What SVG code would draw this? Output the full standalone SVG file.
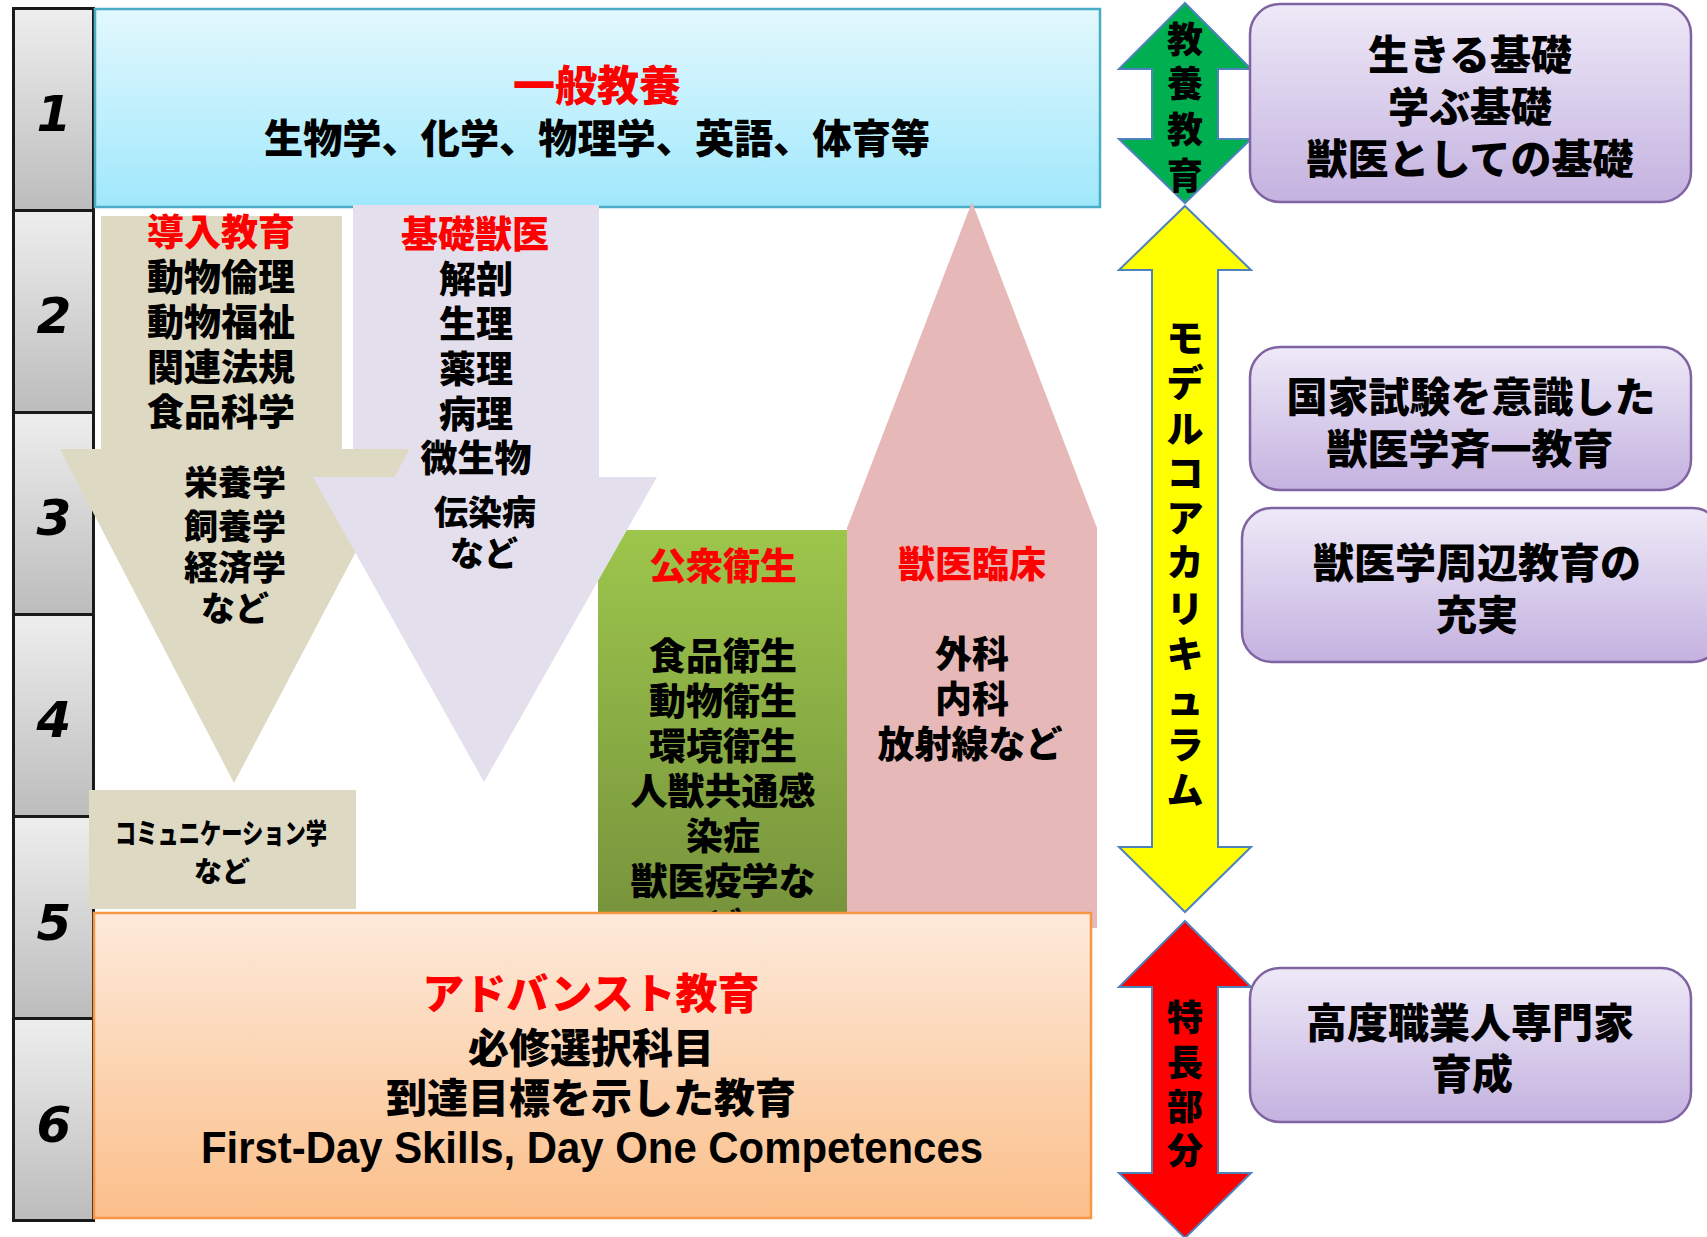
<svg xmlns="http://www.w3.org/2000/svg" width="1707" height="1237" viewBox="0 0 1707 1237">
<defs>
<linearGradient id="gCol" x1="0" y1="0" x2="0" y2="1"><stop offset="0" stop-color="#eeeeee"/><stop offset="1" stop-color="#bcbcbc"/></linearGradient>
<linearGradient id="gBlue" x1="0" y1="0" x2="0" y2="1"><stop offset="0" stop-color="#e2f8fd"/><stop offset="1" stop-color="#a0e8fc"/></linearGradient>
<linearGradient id="gGreen" x1="0" y1="0" x2="0" y2="1"><stop offset="0" stop-color="#9dc64c"/><stop offset="1" stop-color="#76923c"/></linearGradient>
<linearGradient id="gOrange" x1="0" y1="0" x2="0" y2="1"><stop offset="0" stop-color="#fdeadb"/><stop offset="1" stop-color="#fbbf8a"/></linearGradient>
<linearGradient id="gPurple" x1="0" y1="0" x2="0" y2="1"><stop offset="0" stop-color="#eee9f7"/><stop offset="1" stop-color="#c4b2e0"/></linearGradient>
<style>
.j{font-family:'Liberation Sans','Noto Sans CJK JP',sans-serif;font-weight:900;text-anchor:middle;fill:#000}
.r{fill:#ff0000}
.num{font-family:'DejaVu Sans',sans-serif;font-weight:bold;font-style:italic;font-size:50px;text-anchor:middle;fill:#000}
.cell{fill:url(#gCol);stroke:#1a1a1a;stroke-width:3}
.pbox{fill:url(#gPurple);stroke:#8064a2;stroke-width:2.5}
.arr{stroke:#4f81bd;stroke-width:2}
</style>
</defs>
<rect width="1707" height="1237" fill="#ffffff"/>

<g id="year-column">
<rect class="cell" x="13.5" y="8.5" width="80" height="202"/>
<rect class="cell" x="13.5" y="210.5" width="80" height="202"/>
<rect class="cell" x="13.5" y="412.5" width="80" height="202"/>
<rect class="cell" x="13.5" y="614.5" width="80" height="202"/>
<rect class="cell" x="13.5" y="816.5" width="80" height="202"/>
<rect class="cell" x="13.5" y="1018.5" width="80" height="202"/>
<text class="num" x="54" y="131">1</text>
<text class="num" x="54" y="333">2</text>
<text class="num" x="54" y="535">3</text>
<text class="num" x="54" y="737">4</text>
<text class="num" x="54" y="940">5</text>
<text class="num" x="54" y="1142">6</text>
</g>

<g id="node-ippan-kyoyo">
<rect x="95" y="9" width="1005" height="198" fill="url(#gBlue)" stroke="#4bacc6" stroke-width="2.5"/>
<text class="j r" x="597" y="101" font-size="42">一般教養</text>
<text class="j" x="597" y="153" font-size="40" textLength="666" lengthAdjust="spacingAndGlyphs">生物学、化学、物理学、英語、体育等</text>
</g>

<g id="node-dounyu-kyoiku">
<polygon points="101,216 342,216 342,449 410,449 234,783 60,449 101,449" fill="#ddd9c3"/>
<text class="j r" x="221" y="246" font-size="37">導入教育</text>
<text class="j" x="221" y="291" font-size="37">動物倫理</text>
<text class="j" x="221" y="336" font-size="37">動物福祉</text>
<text class="j" x="221" y="381" font-size="37">関連法規</text>
<text class="j" x="221" y="426" font-size="37">食品科学</text>
<text class="j" x="235" y="495" font-size="34">栄養学</text>
<text class="j" x="235" y="539" font-size="34">飼養学</text>
<text class="j" x="235" y="580" font-size="34">経済学</text>
<text class="j" x="235" y="621" font-size="34">など</text>
</g>

<g id="node-koshu-eisei">
<rect x="598" y="530" width="249" height="400" fill="url(#gGreen)"/>
<text class="j r" x="723" y="580" font-size="37">公衆衛生</text>
<text class="j" x="723" y="670" font-size="37">食品衛生</text>
<text class="j" x="723" y="715" font-size="37">動物衛生</text>
<text class="j" x="723" y="760" font-size="37">環境衛生</text>
<text class="j" x="723" y="805" font-size="37">人獣共通感</text>
<text class="j" x="723" y="850" font-size="37">染症</text>
<text class="j" x="723" y="895" font-size="37">獣医疫学な</text>
<text class="j" x="723" y="940" font-size="37">ど</text>
</g>

<g id="node-kiso-juui">
<polygon points="353,205 599,205 599,477 657,477 484,782 313,477 395,477 410,449 353,449" fill="#e4dfec"/>
<text class="j r" x="475" y="248" font-size="37">基礎獣医</text>
<text class="j" x="476" y="293" font-size="37">解剖</text>
<text class="j" x="476" y="338" font-size="37">生理</text>
<text class="j" x="476" y="383" font-size="37">薬理</text>
<text class="j" x="476" y="428" font-size="37">病理</text>
<text class="j" x="476" y="472" font-size="37">微生物</text>
<text class="j" x="485" y="525" font-size="34">伝染病</text>
<text class="j" x="484" y="566" font-size="34">など</text>
</g>

<g id="node-juui-rinsho">
<polygon points="847,928 847,528 972,202 1097,528 1097,928" fill="#e6b9b8"/>
<text class="j r" x="972" y="578" font-size="37">獣医臨床</text>
<text class="j" x="972" y="668" font-size="37">外科</text>
<text class="j" x="972" y="713" font-size="37">内科</text>
<text class="j" x="970" y="758" font-size="37">放射線など</text>
</g>

<g id="node-communication">
<rect x="89" y="790" width="267" height="119" fill="#ddd9c3"/>
<text class="j" x="221" y="844" font-size="28" textLength="212" lengthAdjust="spacingAndGlyphs">コミュニケーション学</text>
<text class="j" x="222" y="882" font-size="28">など</text>
</g>

<g id="node-advanced">
<rect x="94" y="913" width="997" height="305" fill="url(#gOrange)" stroke="#f79646" stroke-width="2.5"/>
<text class="j r" x="591" y="1009" font-size="42">アドバンスト教育</text>
<text class="j" x="591" y="1063" font-size="41">必修選択科目</text>
<text class="j" x="591" y="1113" font-size="41">到達目標を示した教育</text>
<text class="j" x="592" y="1163" font-size="44" textLength="782" lengthAdjust="spacingAndGlyphs">First-Day Skills, Day One Competences</text>
</g>

<g id="node-kyoyo-arrow">
<polygon class="arr" points="1185,3 1251,69 1218,69 1218,139 1251,139 1185,203 1119,139 1152,139 1152,69 1119,69" fill="#00b050"/>
<text class="j" x="1185" font-size="36"><tspan x="1185" y="53">教</tspan><tspan x="1185" y="97">養</tspan><tspan x="1185" y="143">教</tspan><tspan x="1185" y="189">育</tspan></text>
</g>

<g id="node-core-arrow">
<polygon class="arr" points="1185,206 1251,270 1218,270 1218,847 1251,847 1185,912 1119,847 1152,847 1152,270 1119,270" fill="#ffff00"/>
<text class="j" font-size="37"><tspan x="1185" y="352">モ</tspan><tspan x="1185" y="397">デ</tspan><tspan x="1185" y="443">ル</tspan><tspan x="1185" y="487">コ</tspan><tspan x="1185" y="532">ア</tspan><tspan x="1185" y="576">カ</tspan><tspan x="1185" y="623">リ</tspan><tspan x="1185" y="668">キ</tspan><tspan x="1185" y="714">ュ</tspan><tspan x="1185" y="759">ラ</tspan><tspan x="1185" y="804">ム</tspan></text>
</g>

<g id="node-tokucho-arrow">
<polygon class="arr" points="1185,921 1251,987 1218,987 1218,1173 1251,1173 1185,1238 1119,1173 1152,1173 1152,987 1119,987" fill="#ff0000"/>
<text class="j" font-size="36"><tspan x="1185" y="1031">特</tspan><tspan x="1185" y="1076">長</tspan><tspan x="1185" y="1120">部</tspan><tspan x="1185" y="1164">分</tspan></text>
</g>

<g id="node-kiso">
<rect class="pbox" x="1250" y="4" width="441" height="198" rx="30" ry="30"/>
<text class="j" x="1470" y="70" font-size="41">生きる基礎</text>
<text class="j" x="1470" y="122" font-size="41">学ぶ基礎</text>
<text class="j" x="1470" y="174" font-size="41">獣医としての基礎</text>
</g>

<g id="node-kokka-shiken">
<rect class="pbox" x="1250" y="347" width="441" height="143" rx="30" ry="30"/>
<text class="j" x="1471" y="412" font-size="41">国家試験を意識した</text>
<text class="j" x="1470" y="464" font-size="41">獣医学斉一教育</text>
</g>

<g id="node-shuhen">
<rect class="pbox" x="1242" y="508" width="480" height="154" rx="30" ry="30"/>
<text class="j" x="1477" y="578" font-size="41">獣医学周辺教育の</text>
<text class="j" x="1477" y="630" font-size="41">充実</text>
</g>

<g id="node-kodo">
<rect class="pbox" x="1250" y="968" width="441" height="154" rx="30" ry="30"/>
<text class="j" x="1470" y="1038" font-size="41">高度職業人専門家</text>
<text class="j" x="1472" y="1089" font-size="41">育成</text>
</g>

<g id="connectors"/>
</svg>
